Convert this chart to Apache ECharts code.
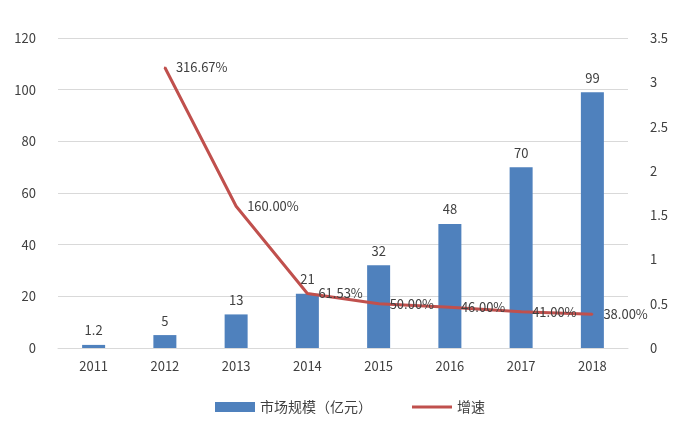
<!DOCTYPE html>
<html><head><meta charset="utf-8">
<script src="https://cdn.jsdelivr.net/npm/echarts@6/dist/echarts.min.js"></script>
<style>html,body{margin:0;background:#fff}#main{width:700px;height:441px}</style>
</head><body><div id="main"></div>
<script>
var years = ['2011', '2012', '2013', '2014', '2015', '2016', '2017', '2018'];
var marketSize = [1.2, 5, 13, 21, 32, 48, 70, 99];
var growth = [null, 3.1667, 1.6, 0.6153, 0.5, 0.46, 0.41, 0.38];
var growthLabels = ['', '316.67%', '160.00%', '61.53%', '50.00%', '46.00%', '41.00%', '38.00%'];

var chart = echarts.init(document.getElementById('main'));
var font = '"Microsoft YaHei","Noto Sans CJK SC",sans-serif';
chart.setOption({
    textStyle: {fontFamily: font},
    grid: {left: 58, right: 72, top: 38, bottom: 93},
    legend: {
        bottom: 22, itemGap: 40, itemWidth: 40, itemHeight: 10,
        textStyle: {fontSize: 14, color: '#404040'},
        data: [{name: '市场规模（亿元）', icon: 'rect'},
               {name: '增速', icon: 'path://M0,0 L40,0 L40,3 L0,3 Z'}]
    },
    xAxis: {
        type: 'category', data: years,
        axisTick: {show: false},
        axisLine: {lineStyle: {color: '#d9d9d9'}},
        axisLabel: {color: '#404040', fontSize: 13, margin: 12}
    },
    yAxis: [{
        type: 'value', min: 0, max: 120, interval: 20,
        axisLabel: {color: '#404040', fontSize: 13, margin: 22},
        splitLine: {lineStyle: {color: '#d9d9d9'}}
    }, {
        type: 'value', min: 0, max: 3.5, interval: 0.5,
        axisLabel: {color: '#404040', fontSize: 13, margin: 22},
        splitLine: {show: false}
    }],
    series: [{
        name: '市场规模（亿元）', type: 'bar', data: marketSize, barWidth: 23,
        itemStyle: {color: '#4F81BD'},
        label: {show: true, position: 'top', color: '#404040', fontSize: 13, distance: 8}
    }, {
        name: '增速', type: 'line', yAxisIndex: 1, data: growth,
        symbol: 'circle', symbolSize: 2, showSymbol: true,
        lineStyle: {color: '#C0504D', width: 3}, itemStyle: {color: '#C0504D'},
        label: {show: true, position: 'right', color: '#404040', fontSize: 13, distance: 10,
            formatter: function (p) { return growthLabels[p.dataIndex]; }}
    }]
});
</script></body></html>
